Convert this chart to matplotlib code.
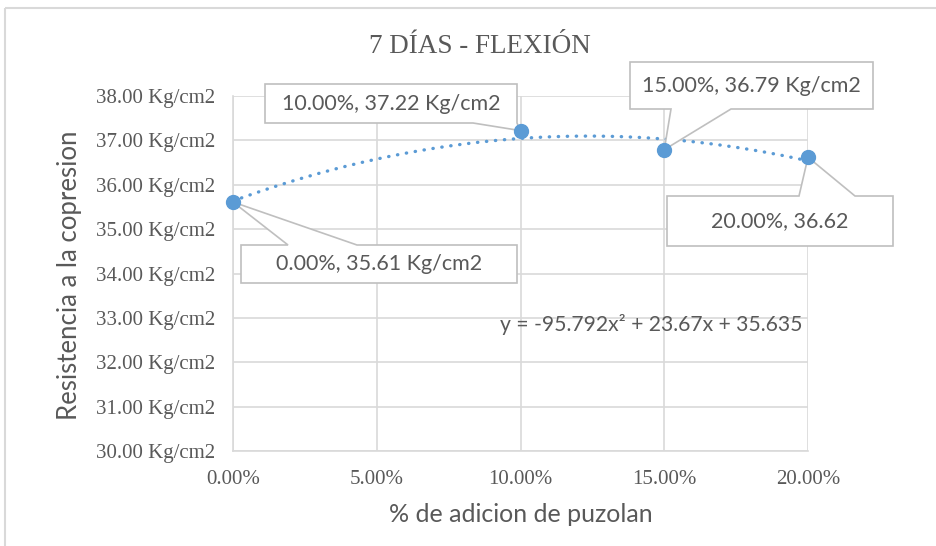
import numpy as np
import matplotlib
matplotlib.use("Agg")
import matplotlib.pyplot as plt
from matplotlib.patches import Polygon, Rectangle

# ── datos ─────────────────────────────────────────────
adicion = [0.00, 0.10, 0.15, 0.20]
resistencia = [35.61, 37.22, 36.79, 36.62]
etiquetas = ["0.00%, 35.61 Kg/cm2", "10.00%, 37.22 Kg/cm2",
             "15.00%, 36.79 Kg/cm2", "20.00%, 36.62"]
coef = [-95.792, 23.67, 35.635]          # línea de tendencia polinómica
x_ticks = [0.00, 0.05, 0.10, 0.15, 0.20]
y_ticks = [30, 31, 32, 33, 34, 35, 36, 37, 38]

AZUL = "#5B9BD5"
GRIS_TXT = "#595959"
GRIS_LIN = "#D9D9D9"
GRIS_BOX = "#BFBFBF"
SERIF = "Liberation Serif"
SANS = "Lato"

W, H = 936, 546
fig = plt.figure(figsize=(W / 100, H / 100), dpi=100)
fig.patches.append(Rectangle((5 / W, 1 - 8 / H), 2, -2, transform=fig.transFigure,
                             fill=False, ec=GRIS_LIN, lw=1.5))

ax = fig.add_axes([233 / W, 1 - 451 / H, (808 - 233) / W, (451 - 96) / H])
ax.set_xlim(0, 0.20)
ax.set_ylim(30, 38)
ax.set_xticks(x_ticks)
ax.set_yticks(y_ticks)
ax.set_xticklabels([f"{v*100:.2f}%" for v in x_ticks], fontfamily=SERIF, fontsize=15, color=GRIS_TXT)
ax.set_yticklabels([f"{v:.2f} Kg/cm2" for v in y_ticks], fontfamily=SERIF, fontsize=15, color=GRIS_TXT)
ax.tick_params(length=0)
ax.tick_params(axis="y", pad=13)
ax.tick_params(axis="x", pad=14)
ax.grid(True, color=GRIS_LIN, lw=1.2)
ax.set_axisbelow(True)
for s in ["top", "right"]:
    ax.spines[s].set_visible(False)
for s in ["left", "bottom"]:
    ax.spines[s].set_color(GRIS_LIN)
    ax.spines[s].set_linewidth(1.2)

# tendencia
xt = np.linspace(0, 0.20, 200)
yt = np.polyval(coef, xt)
ax.plot(xt, yt, color=AZUL, lw=2.4, linestyle=(0, (0.1, 2.6)),
        dash_capstyle="round", zorder=2)
ax.plot(adicion, resistencia, "o", color=AZUL, ms=10, zorder=6, clip_on=False)

# cuadros de etiqueta (px: izq, arriba, der, abajo, base cuña x1, x2, lado)
cajas = [
    (241, 245, 517, 283, 288, 357, "top"),
    (265, 84, 517, 123, 473, 517, "bottom"),
    (630, 62, 873, 109, 671, 731, "bottom"),
    (667, 196, 893, 246, 799, 855, "top"),
]
fig.canvas.draw()
for (xv, yv, txt, c) in zip(adicion, resistencia, etiquetas, cajas):
    l, t, r, b, w1, w2, lado = c
    px, py = ax.transData.transform((xv, yv))
    py = H - py
    if lado == "top":
        pts = [(l, t), (w1, t), (px, py), (w2, t), (r, t), (r, b), (l, b)]
    else:
        pts = [(l, t), (r, t), (r, b), (w2, b), (px, py), (w1, b), (l, b)]
    pts = [(x / W, 1 - y / H) for x, y in pts]
    ax.add_patch(Polygon(pts, closed=True, transform=fig.transFigure, clip_on=False,
                         fc="white", ec=GRIS_BOX, lw=1.2, zorder=4))
    ax.text((l + r) / 2 / W, 1 - (t + b) / 2 / H, txt, ha="center", va="center",
            transform=fig.transFigure, fontfamily=SANS, fontsize=15.5,
            color=GRIS_TXT, zorder=5)

# ecuación
ax.text(0.1456, 32.84, "y = -95.792x² + 23.67x + 35.635", ha="center", va="center",
        fontfamily=SANS, fontsize=15.2, color=GRIS_TXT)

fig.text(480 / W, 1 - 53 / H, "7 DÍAS - FLEXIÓN", ha="center", va="baseline",
         fontfamily=SERIF, fontsize=19.5, color=GRIS_TXT)
fig.text(70 / W, 1 - 275 / H, "Resistencia a la copresion", rotation=90,
         ha="center", va="center", fontfamily=SANS, fontsize=18.5, color=GRIS_TXT)
fig.text(521 / W, 1 - 515 / H, "% de adicion de puzolan", ha="center", va="center",
         fontfamily=SANS, fontsize=18, color=GRIS_TXT)

fig.savefig("out.png", dpi=100)
